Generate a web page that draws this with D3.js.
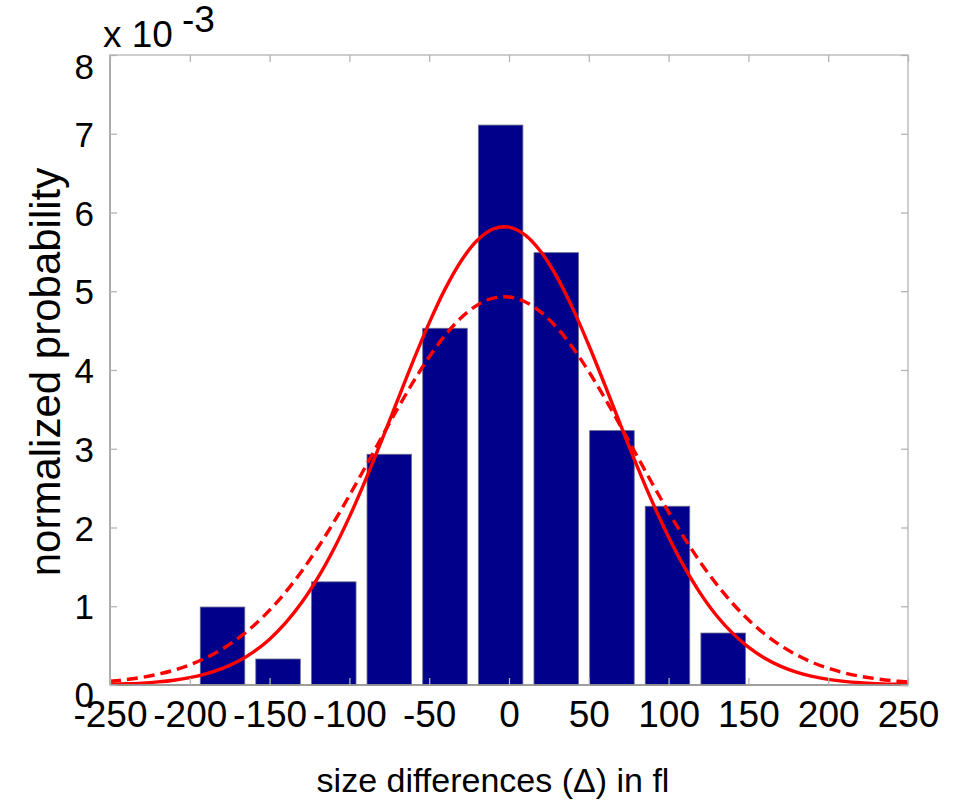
<!DOCTYPE html>
<html>
<head>
<meta charset="utf-8">
<script src="https://cdn.jsdelivr.net/npm/d3@7"></script>
<style>
  html, body { margin: 0; padding: 0; background: #fff; }
  svg { display: block; font-family: "Liberation Sans", Arial, sans-serif; }
</style>
</head>
<body>
<svg id="chart" width="976" height="809"></svg>
<script>
// ---- data ----
const binCenters = [-179.5, -144.7, -109.8, -75.0, -40.1, -5.25, 29.6, 64.5, 99.3, 134.2];
const binHeights = [0.99, 0.33, 1.31, 2.93, 4.53, 7.11, 5.49, 3.23, 2.27, 0.66]; // x 10^-3
const binWidth = 27.9;

const curveX = [-250,-240,-230,-220,-210,-200,-190,-180,-170,-160,-150,-140,-130,-120,-110,-100,-90,-80,-70,-60,-50,-40,-30,-20,-10,0,10,20,30,40,50,60,70,80,90,100,110,120,130,140,150,160,170,180,190,200,210,220,230,240,250];
const fitSolid = [0.009,0.015,0.024,0.039,0.061,0.093,0.140,0.207,0.298,0.421,0.582,0.788,1.043,1.353,1.718,2.135,2.598,3.094,3.607,4.117,4.599,5.030,5.385,5.644,5.790,5.814,5.716,5.501,5.183,4.779,4.314,3.813,3.298,2.793,2.316,1.879,1.493,1.161,0.883,0.659,0.480,0.343,0.240,0.164,0.110,0.072,0.046,0.029,0.018,0.011,0.006];
const fitDashed = [0.047,0.068,0.097,0.136,0.188,0.256,0.343,0.453,0.589,0.753,0.950,1.179,1.442,1.737,2.060,2.407,2.769,3.138,3.502,3.849,4.166,4.441,4.664,4.823,4.912,4.927,4.867,4.735,4.538,4.282,3.980,3.643,3.284,2.917,2.550,2.196,1.863,1.556,1.281,1.038,0.828,0.651,0.504,0.384,0.288,0.213,0.155,0.111,0.079,0.055,0.038];

const xTicks = [-250,-200,-150,-100,-50,0,50,100,150,200,250];
const yTicks = [0,1,2,3,4,5,6,7,8];

// ---- layout ----
const svg = d3.select("#chart");
const L = 110, T = 55, W = 798, H = 630;
const x = d3.scaleLinear().domain([-250, 250]).range([L, L + W]);
const y = d3.scaleLinear().domain([0, 8]).range([T + H, T]);
const fmt = (d) => String(d); // plain hyphen-minus like the reference

// bars
svg.append("g").selectAll("rect").data(binCenters).join("rect")
  .attr("x", (d) => x(d - binWidth / 2))
  .attr("y", (d, i) => y(binHeights[i]))
  .attr("width", x(binWidth) - x(0))
  .attr("height", (d, i) => y(0) - y(binHeights[i]))
  .attr("fill", "#00008B")
  .attr("stroke", "#6a6a8a")
  .attr("stroke-width", 0.8);

// fit curves
const line = d3.line().x((d) => x(d[0])).y((d) => y(d[1])).curve(d3.curveCatmullRom);
svg.append("path")
  .datum(curveX.map((v, i) => [v, fitDashed[i]]))
  .attr("d", line).attr("fill", "none")
  .attr("stroke", "#ff0000").attr("stroke-width", 3.4)
  .attr("stroke-dasharray", "11,6");
svg.append("path")
  .datum(curveX.map((v, i) => [v, fitSolid[i]]))
  .attr("d", line).attr("fill", "none")
  .attr("stroke", "#ff0000").attr("stroke-width", 3.4);

// frame
const frameColor = "#b4b4b4";
svg.append("rect").attr("x", L).attr("y", T).attr("width", W).attr("height", H)
  .attr("fill", "none").attr("stroke", frameColor).attr("stroke-width", 1.3);
svg.append("line").attr("x1", L).attr("x2", L + W).attr("y1", T + H).attr("y2", T + H)
  .attr("stroke", "#8c8c8c").attr("stroke-width", 1.5);
svg.append("line").attr("x1", L).attr("x2", L).attr("y1", T).attr("y2", T + H)
  .attr("stroke", "#a0a0a0").attr("stroke-width", 1.5);

// axes (ticks inward on all four sides)
const tickLen = 7;
const axB = svg.append("g").attr("transform", `translate(0,${T + H})`)
  .call(d3.axisBottom(x).tickValues(xTicks).tickSizeInner(-tickLen).tickSizeOuter(0).tickPadding(16).tickFormat(fmt));
const axT = svg.append("g").attr("transform", `translate(0,${T})`)
  .call(d3.axisTop(x).tickValues(xTicks).tickSizeInner(-tickLen).tickSizeOuter(0).tickFormat(""));
const axL = svg.append("g").attr("transform", `translate(${L},0)`)
  .call(d3.axisLeft(y).tickValues(yTicks).tickSizeInner(-tickLen).tickSizeOuter(0).tickPadding(16).tickFormat(fmt));
const axR = svg.append("g").attr("transform", `translate(${L + W},0)`)
  .call(d3.axisRight(y).tickValues(yTicks).tickSizeInner(-tickLen).tickSizeOuter(0).tickFormat(""));
[axB, axT, axL, axR].forEach((g) => {
  g.select(".domain").remove();
  g.selectAll(".tick line").attr("stroke", frameColor).attr("stroke-width", 1.3);
  g.selectAll("text").attr("fill", "#000").attr("font-family", "Liberation Sans, Arial, sans-serif");
});
axB.selectAll("text").attr("font-size", 37).attr("dy", "0.71em");
axL.selectAll("text").attr("font-size", 35)
  .attr("dy", (d) => d === 8 ? "0.66em" : (d === 0 ? "0.62em" : "0.36em"));

// exponent label
const ex = svg.append("text").attr("x", 103).attr("y", 47).attr("font-size", 37).attr("fill", "#000");
ex.append("tspan").text("x 10");
ex.append("tspan").attr("dx", 9).attr("dy", -15).text("-3");

// axis titles
svg.append("text").attr("x", x(0) - 16).attr("y", 792).attr("text-anchor", "middle")
  .attr("font-size", 34).attr("fill", "#000").text("size differences (\u0394) in fl");
svg.append("text").attr("transform", `translate(60, ${T + H / 2 + 2}) rotate(-90)`)
  .attr("text-anchor", "middle").attr("font-size", 42).attr("fill", "#000").text("normalized probability");
</script>
</body>
</html>
